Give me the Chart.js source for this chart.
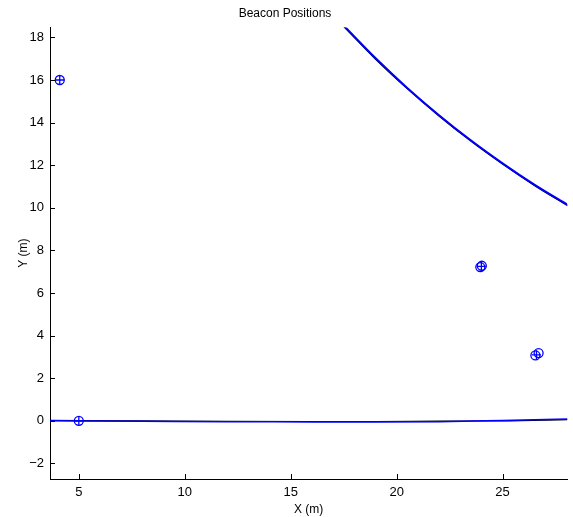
<!DOCTYPE html>
<html>
<head>
<meta charset="utf-8">
<script src="https://cdn.jsdelivr.net/npm/chart.js@4/dist/chart.umd.min.js"></script>
<style>
  body { margin: 0; background: #fff; }
  #wrap { width: 573px; height: 517px; }
</style>
</head>
<body>
<div id="wrap"><canvas id="beaconChart" width="573" height="517"></canvas></div>
<script>
// beacon estimates (circles) and true positions (plus)
var circleX = [4.1, 5.0, 23.95, 24.02, 26.55, 26.7];
var circleY = [16.0, 0.0, 7.22, 7.28, 3.07, 3.18];
var plusX = [4.1, 5.0, 24.0, 26.6];
var plusY = [16.0, 0.0, 7.25, 3.1];

// range arc, upper right
var arcX = [17.5, 19, 20.5, 22, 23.5, 25, 26.5, 28.1];
var arcBlueY = [18.56, 17.03, 15.63, 14.35, 13.17, 12.09, 11.09, 10.12];
var arcBlackY = [18.52, 16.99, 15.6, 14.32, 13.14, 12.06, 11.06, 10.09];

// near-horizontal line along y = 0
var baseX = [3.6, 8, 12, 16, 19, 22, 25, 28.1];
var baseBlueY = [0.0, -0.02, -0.04, -0.05, -0.06, -0.04, 0.02, 0.09];
var baseBlackY = [0.02, 0.0, -0.02, -0.03, -0.03, -0.01, 0.0, 0.06];

var xTicks = [5, 10, 15, 20, 25];
var yTicks = [-2, 0, 2, 4, 6, 8, 10, 12, 14, 16, 18];

function pts(xs, ys) {
    return xs.map(function (x, i) { return { x: x, y: ys[i] }; });
}

// matlab style ticks pointing into the plot
var innerTicks = {
    id: 'innerTicks',
    afterDraw: function (chart) {
        var c = chart.ctx, a = chart.chartArea;
        var sx = chart.scales.x, sy = chart.scales.y;
        c.save();
        c.strokeStyle = '#000';
        c.lineWidth = 1;
        c.beginPath();
        xTicks.forEach(function (v) {
            var p = Math.round(sx.getPixelForValue(v)) + 0.5;
            c.moveTo(p, a.bottom); c.lineTo(p, a.bottom - 5);
        });
        yTicks.forEach(function (v) {
            var p = Math.round(sy.getPixelForValue(v)) + 0.5;
            c.moveTo(a.left, p); c.lineTo(a.left + 5, p);
        });
        c.stroke();
        c.restore();
    }
};

var family = 'Liberation Sans, Arial, sans-serif';
var tickFont = { family: family, size: 13 };
var labelFont = { family: family, size: 12 };

var ctx = document.getElementById('beaconChart').getContext('2d');
var myChart = new Chart(ctx, {
    type: 'scatter',
    data: {
        datasets: [
            // dataset 0 is drawn on top
            { data: pts(plusX, plusY), pointStyle: 'cross', pointRadius: 4.5, borderColor: '#0000ff', borderWidth: 1.3 },
            { data: pts(circleX, circleY), pointStyle: 'circle', pointRadius: 4.5, borderColor: '#0000ff', backgroundColor: 'rgba(0,0,0,0)', borderWidth: 1.3 },
            { data: pts(arcX, arcBlueY), showLine: true, borderColor: '#0000ff', borderWidth: 2, pointRadius: 0, fill: false, cubicInterpolationMode: 'monotone' },
            { data: pts(arcX, arcBlackY), showLine: true, borderColor: '#000', borderWidth: 1.5, pointRadius: 0, fill: false, cubicInterpolationMode: 'monotone' },
            { data: pts(baseX, baseBlueY), showLine: true, borderColor: '#0000ff', borderWidth: 1.5, pointRadius: 0, fill: false, cubicInterpolationMode: 'monotone' },
            { data: pts(baseX, baseBlackY), showLine: true, borderColor: '#000', borderWidth: 1.2, pointRadius: 0, fill: false, cubicInterpolationMode: 'monotone' }
        ]
    },
    options: {
        responsive: false,
        animation: false,
        layout: { padding: { left: 0, right: 3, top: 0, bottom: 0 } },
        plugins: {
            legend: { display: false },
            tooltip: { enabled: false },
            title: {
                display: true,
                text: 'Beacon Positions',
                color: '#000',
                font: { family: family, size: 12, weight: 'normal' },
                padding: { top: 6, bottom: 7 }
            }
        },
        scales: {
            x: {
                type: 'linear',
                min: 3.64,
                max: 28.05,
                afterBuildTicks: function (s) { s.ticks = xTicks.map(function (v) { return { value: v }; }); },
                afterFit: function (s) { s.height = 38; },
                grid: { drawOnChartArea: false, drawTicks: false },
                border: { color: '#000', width: 1 },
                ticks: { color: '#000', font: tickFont, padding: 6, maxRotation: 0 },
                title: { display: true, text: 'X (m)', color: '#000', font: labelFont, padding: { top: 0, bottom: 0 } }
            },
            y: {
                type: 'linear',
                min: -2.73,
                max: 18.47,
                afterBuildTicks: function (s) { s.ticks = yTicks.map(function (v) { return { value: v }; }); },
                afterFit: function (s) { s.width = 50; },
                grid: { drawOnChartArea: false, drawTicks: false },
                border: { color: '#000', width: 1 },
                ticks: {
                    color: '#000', font: tickFont, padding: 6,
                    callback: function (v) { return v < 0 ? '\u2212' + Math.abs(v) : v; }
                },
                title: { display: true, text: 'Y (m)', color: '#000', font: labelFont, padding: { top: 16, bottom: 0 } }
            }
        }
    },
    plugins: [innerTicks]
});
</script>
</body>
</html>
